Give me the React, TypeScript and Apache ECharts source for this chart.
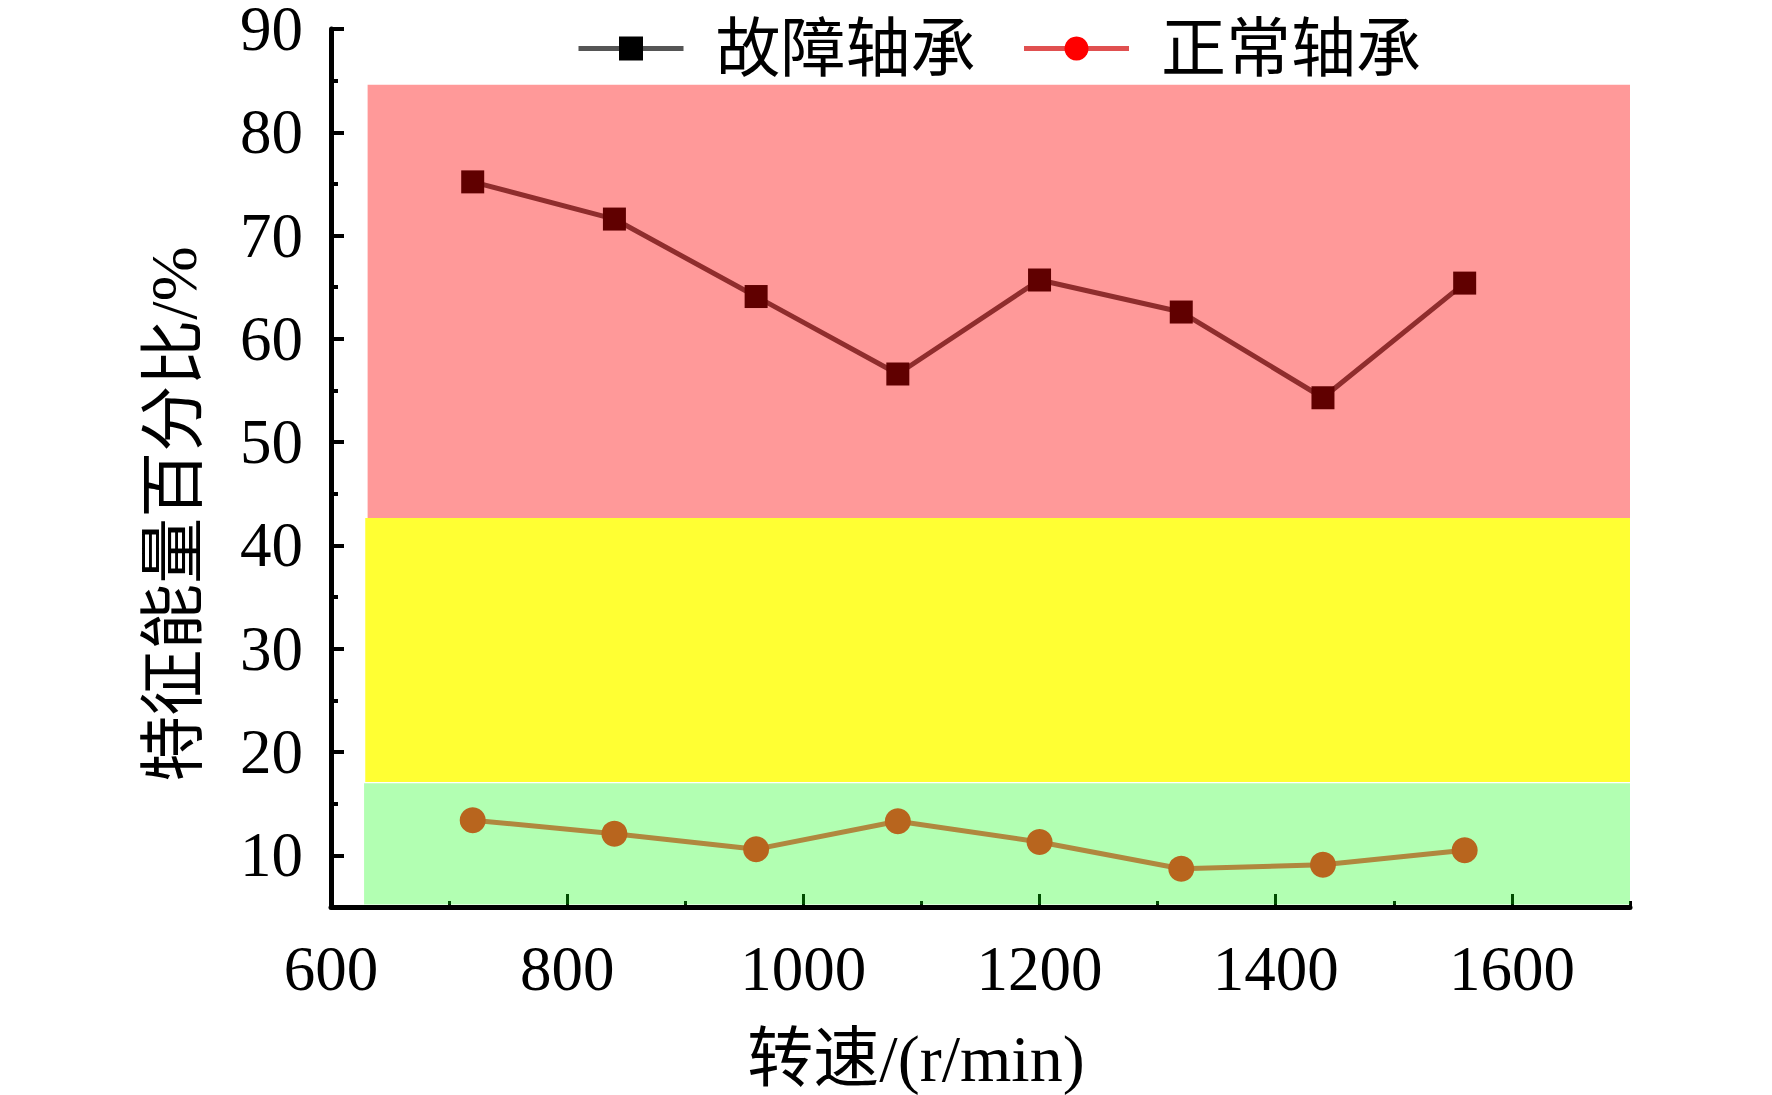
import { useEffect, useRef } from 'react'
import * as echarts from 'echarts'

// ── Data ────────────────────────────────────────────────────────────────────
const SPEEDS = [720, 840, 960, 1080, 1200, 1320, 1440, 1560]
const FAULT = [75.2, 71.6, 64.1, 56.6, 65.7, 62.6, 54.3, 65.4]   // 故障轴承
const NORMAL = [13.4, 12.1, 10.6, 13.3, 11.3, 8.7, 9.1, 10.5]    // 正常轴承

const Y_LABELS = [10, 20, 30, 40, 50, 60, 70, 80, 90]
const Y_MINOR = [15, 25, 35, 45, 55, 65, 75, 85]
const X_LABELS = [600, 800, 1000, 1200, 1400, 1600]
const X_MAJOR = [800, 1000, 1200, 1400, 1600]
const X_MINOR = [700, 900, 1100, 1300, 1500, 1700]

// bands: [x0, x1, yLow, yHigh]
const BAND_RED = [631, 1700, 42.66, 84.6]
const BAND_YELLOW = [629, 1700, 17.1, 42.66]
const BAND_GREEN = [628, 1700, 5.25, 16.98]

const SERIF = "'Liberation Serif', 'Noto Sans CJK SC', serif"
const LEGEND_FONT = "'Liberation Serif', 'Noto Sans CJK SC', sans-serif"

export default function App() {
  const ref = useRef<HTMLDivElement>(null)

  useEffect(() => {
    if (!ref.current) return
    const chart = echarts.init(ref.current, undefined, { renderer: 'svg' })

    const band = (b: number[], color: string) => [
      { xAxis: b[0], yAxis: b[2], itemStyle: { color } },
      { xAxis: b[1], yAxis: b[3] },
    ]

    const option: any = {
      animation: false,
      backgroundColor: '#fff',
      grid: { left: 331, right: 142, top: 29, bottom: 188, outerBoundsMode: 'none' },
      legend: {
        left: 571,
        top: 11,
        itemWidth: 105,
        itemHeight: 30,
        itemGap: 46,
        lineStyle: { width: 5 },
        textStyle: { fontSize: 65, fontFamily: LEGEND_FONT, color: '#000', padding: [0, 0, 0, 27] },
        data: [
          { name: '故障轴承', itemStyle: { color: '#000' }, lineStyle: { color: '#555', width: 5 } },
          { name: '正常轴承', itemStyle: { color: '#ff0000' }, lineStyle: { color: '#e05050', width: 5 } },
        ],
      },
      xAxis: [
        {
          type: 'value',
          min: 600,
          max: 1700,
          axisLine: { lineStyle: { color: '#000', width: 5 } },
          axisTick: {
            inside: true,
            length: 13,
            customValues: X_MAJOR,
            lineStyle: { color: '#000', width: 3 },
          },
          axisLabel: {
            customValues: X_LABELS,
            formatter: (v: number) => String(v),
            fontSize: 63,
            fontFamily: SERIF,
            color: '#000',
            margin: 30,
          },
          splitLine: { show: false },
        },
        {
          type: 'value',
          min: 600,
          max: 1700,
          position: 'bottom',
          axisLine: { show: false },
          axisTick: {
            inside: true,
            length: 6,
            customValues: X_MINOR,
            lineStyle: { color: '#000', width: 3 },
          },
          axisLabel: { show: false },
          splitLine: { show: false },
        },
      ],
      yAxis: [
        {
          type: 'value',
          min: 5,
          max: 90,
          axisLine: { show: true, lineStyle: { color: '#000', width: 5 } },
          axisTick: {
            show: true,
            inside: true,
            length: 13,
            customValues: Y_LABELS,
            lineStyle: { color: '#000', width: 4 },
          },
          axisLabel: {
            customValues: Y_LABELS,
            fontSize: 63,
            lineHeight: 52,
            fontFamily: SERIF,
            color: '#000',
            margin: 28,
          },
          splitLine: { show: false },
        },
        {
          type: 'value',
          min: 5,
          max: 90,
          position: 'left',
          axisLine: { show: false },
          axisTick: {
            show: true,
            inside: true,
            length: 7,
            customValues: Y_MINOR,
            lineStyle: { color: '#000', width: 4 },
          },
          axisLabel: { show: false },
          splitLine: { show: false },
        },
      ],
      graphic: [
        {
          type: 'text',
          x: 916,
          y: 1058,
          style: {
            text: '转速/(r/min)',
            fontSize: 66,
            fontFamily: SERIF,
            fill: '#000',
            textAlign: 'center',
            textVerticalAlign: 'middle',
          },
        },
        {
          type: 'text',
          x: 173,
          y: 514,
          rotation: Math.PI / 2,
          style: {
            text: '特征能量百分比/%',
            fontSize: 66,
            fontFamily: SERIF,
            fill: '#000',
            textAlign: 'center',
            textVerticalAlign: 'middle',
          },
        },
      ],
      series: [
        {
          name: '故障轴承',
          type: 'line',
          symbol: 'rect',
          symbolSize: 23,
          itemStyle: { color: '#600000' },
          lineStyle: { color: '#8f2d2d', width: 5 },
          data: SPEEDS.map((s, i) => [s, FAULT[i]]),
          markArea: {
            silent: true,
            data: [
              band(BAND_RED, 'rgba(255,0,0,0.4)'),
              band(BAND_YELLOW, 'rgba(255,255,0,0.8)'),
              band(BAND_GREEN, 'rgba(0,255,0,0.3)'),
            ],
          },
        },
        {
          name: '正常轴承',
          type: 'line',
          symbol: 'circle',
          symbolSize: 26,
          itemStyle: { color: '#b8651e' },
          lineStyle: { color: '#b0883e', width: 5 },
          data: SPEEDS.map((s, i) => [s, NORMAL[i]]),
        },
      ],
    }

    chart.setOption(option)
    return () => chart.dispose()
  }, [])

  return (
    <div
      ref={ref}
      style={{ position: 'fixed', left: 0, top: 0, width: 1772, height: 1095, background: '#fff' }}
    />
  )
}
